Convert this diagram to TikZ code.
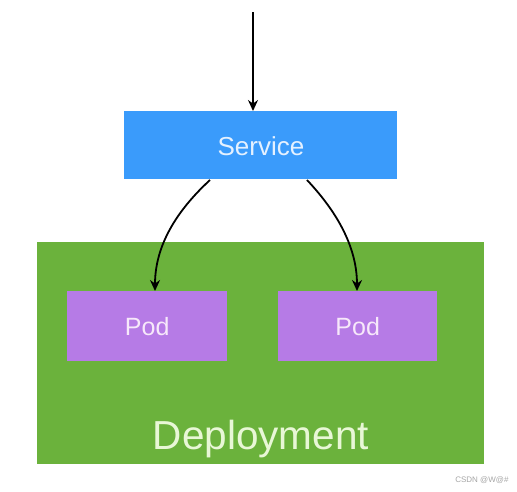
\documentclass[tikz,border=0pt]{standalone}
\usepackage{fontspec}
\setmainfont{Liberation Sans}
\usetikzlibrary{arrows.meta}
\definecolor{svcblue}{HTML}{3A9BFB}
\definecolor{depgreen}{HTML}{6BB23C}
\definecolor{podpurple}{HTML}{B67BE6}
\definecolor{deptext}{HTML}{E8F7D6}
\definecolor{svctext}{HTML}{E4F1FF}
\definecolor{podtext}{HTML}{F7E8FA}
\begin{document}
\begin{tikzpicture}[x=1pt,y=-1pt,
  box/.style={draw=none,inner sep=0pt,anchor=north west},
  conn/.style={-{Stealth[length=11pt,width=10pt]},line width=1.8pt,black}]
\useasboundingbox[fill=white] (0,0) rectangle (517,491);
\node[box,fill=depgreen,minimum width=447pt,minimum height=222pt] (dep) at (37,242) {};
\node[font=\fontsize{40.5}{44}\selectfont,text=deptext] (deplabel) at (261,439) {Deployment};
\node[box,fill=svcblue,minimum width=273pt,minimum height=68pt] (svc) at (124,111) {};
\node[font=\fontsize{26}{30}\selectfont,text=svctext] (svclabel) at (261,146) {Service};
\node[box,fill=podpurple,minimum width=160pt,minimum height=70pt] (pod1) at (67,291) {};
\node[font=\fontsize{25}{28}\selectfont,text=podtext] at (pod1.center) {Pod};
\node[box,fill=podpurple,minimum width=159pt,minimum height=70pt] (pod2) at (278,291) {};
\node[font=\fontsize{25}{28}\selectfont,text=podtext] at (pod2.center) {Pod};
\coordinate (top) at (253,12);
\draw[conn] (top) -- (svc.north -| top);
\coordinate (s1) at (210,180);
\coordinate (s2) at (307,180);
\draw[conn] (s1) .. controls (172,215) and (155,250) .. (155,291);
\draw[conn] (s2) .. controls (340,215) and (357,250) .. (357,291);
\node[font=\fontsize{8}{9}\selectfont,text=gray!70,anchor=east] (wm) at (512,480) {CSDN @W@\#};
\end{tikzpicture}
\end{document}
